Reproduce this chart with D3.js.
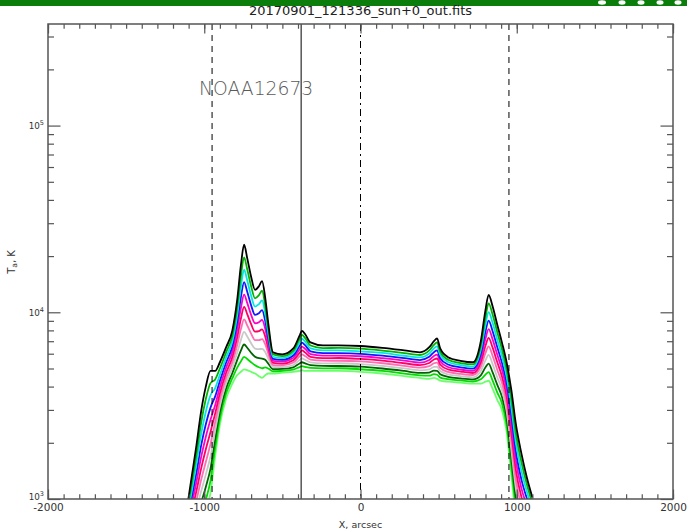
<!DOCTYPE html>
<html>
<head>
<meta charset="utf-8">
<script src="https://cdn.jsdelivr.net/npm/d3@7/dist/d3.min.js"></script>
<style>
  body { margin: 0; background: #fff; }
  text { font-family: "DejaVu Sans", "Liberation Sans", sans-serif; }
</style>
</head>
<body>
<svg id="chart" width="687" height="529"></svg>
<script>
// Scan positions across the disk, arcsec
const xArcsec = [-1110,-1080,-1050,-1020,-990,-960,-930,-900,-860,-820,-790,-765,-745,-725,-700,-675,-650,-630,-610,-590,-560,-500,-430,-390,-375,-355,-320,-240,-140,0,140,280,380,440,470,490,510,560,640,720,770,800,820,845,875,905,935,965,995,1030,1065,1100];

// Antenna temperature scans, K (brightest first)
const scan00 = [900,1320,1940,2950,4000,4850,4850,5400,6500,8000,11500,18000,23000,19500,15500,13200,13800,14700,12000,8700,6100,5950,6400,7500,7950,7650,6900,6650,6650,6600,6450,6250,6100,6500,7000,7250,6400,5750,5500,5400,7000,10300,12400,10800,8600,6900,5400,3850,2500,1750,1300,1020];
const scan01 = [850,1210,1730,2560,3430,4175,4370,5000,6105,7500,10490,15790,19705,16990,13780,11885,12360,13045,10885,8170,5945,5820,6220,7190,7570,7290,6640,6435,6440,6385,6235,6050,5905,6245,6690,6895,6160,5575,5350,5260,6640,9425,11155,9750,7845,6355,4965,3470,2235,1575,1195,950];
const scan02 = [800,1110,1550,2225,2935,3595,3930,4625,5725,7015,9570,13810,16930,14800,12255,10715,11065,11570,9905,7695,5780,5685,6040,6880,7215,6970,6400,6245,6250,6175,6055,5850,5730,6005,6405,6570,5910,5415,5215,5115,6310,8620,10030,8810,7135,5850,4560,3120,1990,1415,1095,885];
const scan03 = [755,1020,1385,1930,2515,3085,3545,4285,5380,6580,8745,12110,14510,12885,10895,9685,9885,10265,8990,7230,5635,5565,5870,6600,6875,6670,6180,6050,6045,5995,5860,5685,5550,5775,6115,6245,5680,5255,5075,4990,5985,7895,9025,7945,6510,5375,4185,2815,1780,1270,1005,825];
const scan04 = [710,935,1235,1675,2155,2655,3190,3965,5045,6155,7975,10600,12435,11225,9685,8735,8850,9105,8180,6790,5495,5445,5700,6320,6550,6380,5970,5860,5855,5815,5680,5510,5375,5555,5840,5935,5465,5095,4935,4850,5675,7215,8120,7180,5935,4945,3845,2530,1585,1140,920,770];
const scan05 = [670,860,1105,1455,1845,2285,2875,3675,4740,5770,7275,9295,10680,9775,8635,7875,7925,8100,7425,6395,5360,5315,5540,6060,6245,6100,5770,5685,5690,5625,5510,5335,5215,5350,5590,5655,5255,4945,4815,4730,5395,6615,7300,6485,5415,4550,3530,2280,1415,1025,845,715];
const scan06 = [630,790,985,1265,1580,1970,2585,3405,4445,5395,6635,8150,9155,8515,7680,7095,7100,7180,6745,6010,5210,5195,5380,5810,5945,5830,5580,5505,5500,5455,5335,5170,5050,5145,5335,5375,5040,4790,4680,4615,5115,6060,6570,5860,4925,4190,3235,2055,1260,920,775,665];
const scan07 = [600,725,880,1100,1355,1695,2330,3150,4180,5060,6050,7135,7845,7420,6825,6395,6350,6370,6135,5650,5080,5080,5220,5560,5665,5570,5390,5330,5335,5280,5165,5005,4890,4950,5100,5110,4845,4650,4555,4485,4850,5540,5910,5295,4490,3855,2970,1850,1125,830,710,620];
const scan08 = [560,665,790,955,1160,1455,2095,2920,3915,4730,5530,6255,6720,6460,6070,5780,5675,5655,5570,5310,4955,4975,5075,5320,5400,5330,5210,5160,5155,5115,5000,4850,4735,4755,4870,4860,4660,4515,4425,4375,4600,5075,5315,4780,4095,3540,2730,1665,1005,745,655,575];
const scan09 = [530,610,705,830,990,1255,1890,2700,3680,4435,5040,5470,5775,5625,5400,5210,5080,5015,5070,5000,4820,4860,4935,5090,5145,5100,5035,5010,5015,4955,4855,4695,4595,4575,4660,4630,4470,4380,4320,4260,4375,4635,4780,4315,3725,3260,2505,1500,900,670,600,535];
const scan10 = [500,560,630,720,850,1080,1700,2500,3450,4150,4600,4800,4950,4900,4800,4700,4550,4450,4600,4700,4700,4750,4800,4850,4900,4850,4850,4850,4850,4800,4700,4550,4450,4400,4450,4400,4300,4250,4200,4150,4150,4250,4300,3900,3400,3000,2300,1350,800,600,550,500];

const scans = [scan00, scan01, scan02, scan03, scan04, scan05, scan06, scan07, scan08, scan09, scan10];
const scanColors = ["#000000","#00b400","#00e6e6","#1414ff","#ff00c8","#ff0064","#ff6eb4","#c8c8c8","#006400","#00dc00","#6cff6c"];

// Reference meridians, arcsec
const markerX = [-950, 950, -380, 0];
const markerDash = ["6,5", "6,5", null, "7,4,2,4"];

const xMajorTicks = [-2000, -1000, 0, 1000, 2000];
const xTickLabels = ["-2000", "-1000", "0", "1000", "2000"];
const yMajorTicks = [1e3, 1e4, 1e5];
const yTickExponents = ["3", "4", "5"];

const titleText = "20170901_121336_sun+0_out.fits";
const regionLabel = "NOAA12673";

const svg = d3.select("#chart");
const L = 48, R = 673, T = 24, B = 499;
const x = d3.scaleLinear().domain([-2000, 2000]).range([L, R]);
const y = d3.scaleLog().domain([1000, 350000]).range([B, T]);

// header strip
svg.append("rect").attr("x", 0).attr("y", 0).attr("width", 687).attr("height", 6).attr("fill", "#0b7d0b");
[[602,4],[622,3.5],[641,3.5],[660,3.5],[678,3.5]].forEach(([cx, rx]) => {
  svg.append("ellipse").attr("cx", cx).attr("cy", 2.5).attr("rx", rx).attr("ry", 2.2).attr("fill", "#fff");
});

svg.append("text").attr("x", 360.5).attr("y", 15).attr("text-anchor", "middle")
  .attr("font-size", 13).attr("fill", "#222").text(titleText);

svg.append("clipPath").attr("id", "plotClip")
  .append("rect").attr("x", L).attr("y", T).attr("width", R - L).attr("height", B - T);

const plot = svg.append("g").attr("clip-path", "url(#plotClip)");

const line = d3.line()
  .x((d, i) => x(xArcsec[i]))
  .y(d => y(d))
  .curve(d3.curveMonotoneX);

for (let k = scans.length - 1; k >= 0; k--) {
  plot.append("path").datum(scans[k])
    .attr("d", line)
    .attr("fill", "none")
    .attr("stroke", scanColors[k])
    .attr("stroke-width", 1.8)
    .attr("stroke-linejoin", "round");
}

markerX.forEach((mx, i) => {
  plot.append("line")
    .attr("x1", x(mx)).attr("x2", x(mx)).attr("y1", T).attr("y2", B)
    .attr("stroke", "#000").attr("stroke-width", 1)
    .attr("stroke-dasharray", markerDash[i]);
});

svg.append("text").attr("x", 199).attr("y", 94.5)
  .attr("font-size", 18.75).attr("font-weight", 200).attr("fill", "#5a5a5a").text(regionLabel);

// axes
const axisColor = "#555";
const xMinor = d3.range(-2000, 2001, 100);
const yMinor = [];
[1e3, 1e4, 1e5].forEach(d => { for (let m = 2; m <= 9; m++) if (d * m <= 350000) yMinor.push(d * m); });

function styleAxis(g) {
  g.select(".domain").remove();
  g.selectAll(".tick line").attr("stroke", axisColor).attr("stroke-width", 1.2);
  g.selectAll("text").attr("fill", "#333").style("font-family", "DejaVu Sans, sans-serif");
}

svg.append("g").attr("transform", `translate(0,${B})`)
  .call(d3.axisBottom(x).tickValues(xMinor).tickSizeInner(-4.75).tickSizeOuter(0).tickFormat(""))
  .call(styleAxis);
svg.append("g").attr("transform", `translate(0,${B})`)
  .call(d3.axisBottom(x).tickValues(xMajorTicks).tickSizeInner(-9.5).tickSizeOuter(0).tickPadding(5)
    .tickFormat((d, i) => xTickLabels[i]))
  .call(styleAxis)
  .selectAll("text").attr("font-size", 10.5);
svg.append("g").attr("transform", `translate(0,${T})`)
  .call(d3.axisTop(x).tickValues(xMinor).tickSizeInner(-4.75).tickSizeOuter(0).tickFormat(""))
  .call(styleAxis);
svg.append("g").attr("transform", `translate(0,${T})`)
  .call(d3.axisTop(x).tickValues(xMajorTicks).tickSizeInner(-9.5).tickSizeOuter(0).tickFormat(""))
  .call(styleAxis);

svg.append("g").attr("transform", `translate(${L},0)`)
  .call(d3.axisLeft(y).tickValues(yMinor).tickSizeInner(-6).tickSizeOuter(0).tickFormat(""))
  .call(styleAxis);
svg.append("g").attr("transform", `translate(${L},0)`)
  .call(d3.axisLeft(y).tickValues(yMajorTicks).tickSizeInner(-12.5).tickSizeOuter(0).tickFormat(""))
  .call(styleAxis);
svg.append("g").attr("transform", `translate(${R},0)`)
  .call(d3.axisRight(y).tickValues(yMinor).tickSizeInner(-6).tickSizeOuter(0).tickFormat(""))
  .call(styleAxis);
svg.append("g").attr("transform", `translate(${R},0)`)
  .call(d3.axisRight(y).tickValues(yMajorTicks).tickSizeInner(-12.5).tickSizeOuter(0).tickFormat(""))
  .call(styleAxis);

// power-of-ten labels
yMajorTicks.forEach((v, i) => {
  const t = svg.append("text").attr("x", 44).attr("y", y(v) + (i === 0 ? 1 : 3.5))
    .attr("text-anchor", "end").attr("fill", "#333").attr("font-size", 8.8);
  t.append("tspan").text("10");
  t.append("tspan").attr("dy", -4).attr("font-size", 6.5).text(yTickExponents[i]);
});

// frame
svg.append("rect").attr("x", L).attr("y", T).attr("width", R - L).attr("height", B - T)
  .attr("fill", "none").attr("stroke", axisColor).attr("stroke-width", 1.5);

svg.append("text").attr("x", 360.5).attr("y", 527.5).attr("text-anchor", "middle")
  .attr("font-size", 9.5).attr("fill", "#333").text("X, arcsec");

const yt = svg.append("text").attr("transform", "translate(15,262) rotate(-90)")
  .attr("text-anchor", "middle").attr("font-size", 10).attr("fill", "#333");
yt.append("tspan").text("T");
yt.append("tspan").attr("font-size", 7.5).attr("dy", 2).text("a");
yt.append("tspan").attr("dy", -2).text(", K");
</script>
</body>
</html>
